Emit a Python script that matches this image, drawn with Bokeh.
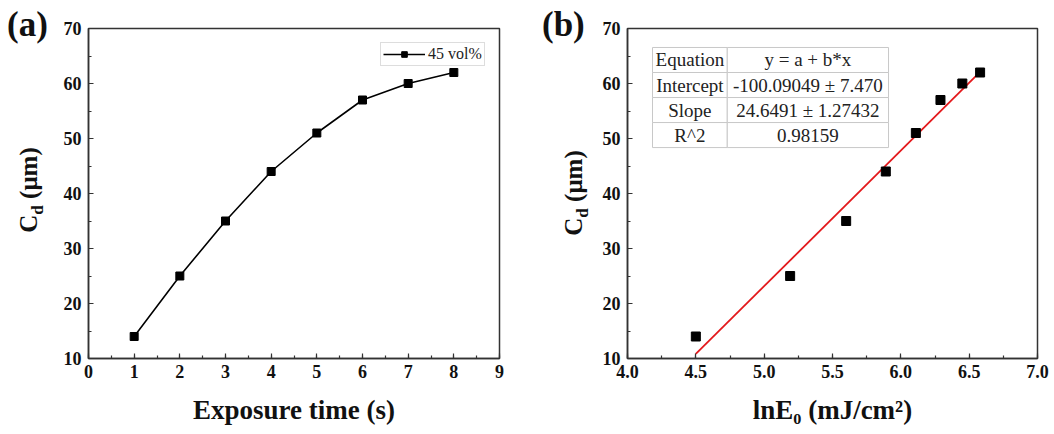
from bokeh.plotting import figure
from bokeh.layouts import row
from bokeh.models import Range1d, SingleIntervalTicker, PrintfTickFormatter, Legend, LegendItem, Div
from bokeh.embed import file_html
from bokeh.resources import INLINE
from bokeh.core.properties import value

# ---- data ----
exposure_time = [1, 2, 3, 4, 5, 6, 7, 8]
cure_depth = [14, 25, 35, 44, 51, 57, 60, 62]
ln_E0 = [4.50, 5.19, 5.60, 5.89, 6.11, 6.29, 6.45, 6.58]
fit_intercept = -100.09049
fit_slope = 24.6491
table_keys = ["Equation", "Intercept", "Slope", "R^2"]
table_vals = ["y = a + b*x", "-100.09049 \u00b1 7.470", "24.6491 \u00b1 1.27432", "0.98159"]
legend_name = "45 vol%"
x_title_a = "Exposure time (s)"
x_title_b = "lnE\u2080 (mJ/cm\u00b2)"
panel_tags = ["(a)", "(b)"]

SERIF = "Liberation Serif"
INK = "#111111"
AX = "#333333"


def style(p, xint, yint, xfmt=None):
    p.xaxis[0].ticker = SingleIntervalTicker(interval=xint, num_minor_ticks=2)
    p.yaxis[0].ticker = SingleIntervalTicker(interval=yint, num_minor_ticks=2)
    if xfmt:
        p.xaxis[0].formatter = PrintfTickFormatter(format=xfmt)
    for ax in (p.xaxis[0], p.yaxis[0]):
        ax.major_label_text_font = SERIF
        ax.major_label_text_font_style = "bold"
        ax.major_label_text_font_size = "18px"
        ax.major_label_text_color = INK
        ax.major_tick_in = 5
        ax.major_tick_out = 0
        ax.minor_tick_in = 3
        ax.minor_tick_out = 0
        ax.axis_line_width = 1.5
        ax.axis_line_color = AX
        ax.major_tick_line_color = AX
        ax.minor_tick_line_color = AX
        ax.major_tick_line_width = 1.2
        ax.minor_tick_line_width = 1.2
        ax.axis_label_text_font = SERIF
        ax.axis_label_text_font_style = "bold"
        ax.axis_label_text_font_size = "27px"
        ax.axis_label_text_color = INK
    p.xaxis[0].major_label_standoff = 6
    p.yaxis[0].major_label_standoff = 7
    p.xaxis[0].axis_label_standoff = 14
    p.outline_line_color = AX
    p.outline_line_width = 1.5
    p.outline_line_alpha = 1
    p.xgrid.visible = False
    p.ygrid.visible = False
    p.background_fill_color = "white"
    p.border_fill_color = "white"


def side_div(width, tag, tag_left, title_cx, title_cy):
    html = (
        f'<div style="position:relative;width:{width}px;height:434px;'
        f"font-family:'{SERIF}';font-weight:bold;color:{INK};\">"
        f'<div style="position:absolute;left:{tag_left}px;top:7px;font-size:35px;'
        f'line-height:1;white-space:nowrap;">{tag}</div>'
        f'<div style="position:absolute;left:{title_cx}px;top:{title_cy}px;font-size:25px;'
        f'line-height:1;white-space:nowrap;transform:translate(-50%,-50%) rotate(-90deg);">'
        f'C<span style="font-size:17px;position:relative;top:6px;">d</span> (\u03bcm)</div>'
        f"</div>"
    )
    return Div(text=html, width=width, height=434, margin=0,
               styles={"overflow": "visible", "background-color": "white"})


# ---- panel (a) ----
pa = figure(width=471, height=434, x_range=Range1d(0, 9), y_range=Range1d(10, 70),
            output_backend="svg", toolbar_location=None,
            min_border_left=32, min_border_right=28, min_border_top=27, min_border_bottom=75)
style(pa, 1, 10)
pa.xaxis[0].axis_label = x_title_a
ln = pa.line(exposure_time, cure_depth, line_color="black", line_width=1.6)
sc = pa.scatter(exposure_time, cure_depth, marker="square", size=8, color="black")
leg = Legend(items=[LegendItem(label=legend_name, renderers=[ln, sc])],
             location=(292, 292), label_text_font=SERIF, label_text_font_size="16px",
             label_text_color="#222", glyph_width=42, glyph_height=14, label_height=14,
             label_standoff=3, padding=2, spacing=0, margin=0,
             border_line_color="#bbbbbb", border_line_width=1, background_fill_alpha=1)
pa.add_layout(leg)

# ---- panel (b) ----
pb = figure(width=464, height=434, x_range=Range1d(4, 7), y_range=Range1d(10, 70),
            output_backend="svg", toolbar_location=None,
            min_border_left=37, min_border_right=17, min_border_top=28, min_border_bottom=76)
style(pb, 0.5, 10, "%.1f")
pb.xaxis[0].axis_label = x_title_b
fx = [min(ln_E0), max(ln_E0)]
fy = [fit_intercept + fit_slope * v for v in fx]
pb.line(fx, fy, line_color="#e3191c", line_width=1.8)
pb.scatter(ln_E0, cure_depth, marker="square", size=9, color="black")

# fit-result table (layout constants in data units)
t_left, t_split, t_right = 4.183, 4.73, 5.91
t_top, t_row = 66.55, 4.55
n = len(table_keys)
tops = [t_top - i * t_row for i in range(n)]
bots = [t - t_row for t in tops]
mids = [t - t_row / 2 for t in tops]
pb.quad(left=[t_left] * n, right=[t_split] * n, top=tops, bottom=bots,
        fill_color="white", line_color="#c8c8c8", line_width=1)
pb.quad(left=[t_split] * n, right=[t_right] * n, top=tops, bottom=bots,
        fill_color="white", line_color="#c8c8c8", line_width=1)
pb.text(x=[(t_left + t_split) / 2] * n, y=mids, text=table_keys,
        text_font=value(SERIF), text_font_size="19px", text_color="#222",
        text_align="center", text_baseline="middle")
pb.text(x=[(t_split + t_right) / 2] * n, y=mids, text=table_vals,
        text_font=value(SERIF), text_font_size="19px", text_color="#222",
        text_align="center", text_baseline="middle")

da = side_div(56, panel_tags[0], 7, 28, 190)
db = side_div(63, panel_tags[1], 15, 46, 193)

layout = row(da, pa, db, pb, spacing=0)
open("out.html", "w").write(file_html(layout, INLINE))
